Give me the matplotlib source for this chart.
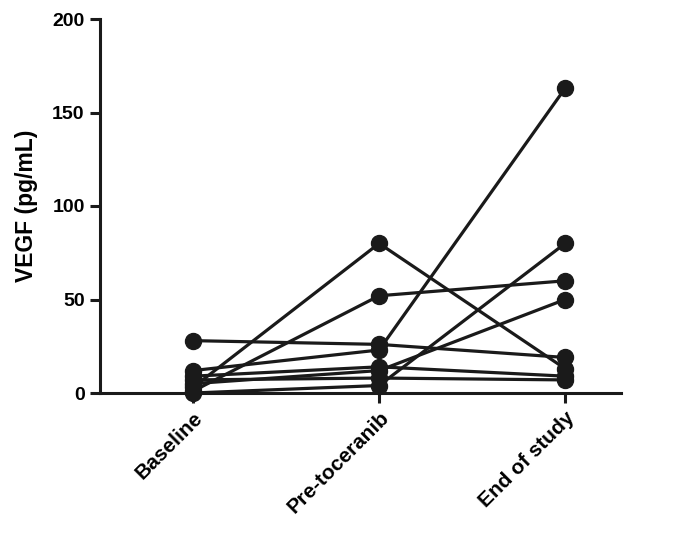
import matplotlib
matplotlib.use("Agg")
import matplotlib.pyplot as plt
import numpy as np

plt.rcParams['font.family'] = ['Liberation Sans', 'DejaVu Sans']

timepoints = ['Baseline', 'Pre-toceranib', 'End of study']

# VEGF (pg/mL) per dog: baseline, pre-toceranib, end of study
dogs = [
    [28, 26, 19],
    [12, 23, 163],
    [3, 80, 13],
    [1, 52, 60],
    [0, 4, 80],
    [5, 12, 50],
    [9, 14, 9],
    [7, 8, 7],
]

fig = plt.figure(figsize=(6.76, 5.35), dpi=100)
ax = fig.add_axes([100 / 676, 142 / 535, 521 / 676, 374 / 535])

x = np.arange(len(timepoints))
for vals in dogs:
    ax.plot(x, vals, color='#1a1a1a', lw=2.3, marker='o', ms=11.5,
            clip_on=False, zorder=3)

ax.set_xlim(-0.5, 2.3)
ax.set_ylim(0, 200)
ax.set_yticks([0, 50, 100, 150, 200])
ax.set_xticks(x)
ax.set_xticklabels(timepoints, rotation=45, ha='right', rotation_mode='anchor',
                   fontsize=15, fontweight='bold')
for lab in ax.get_yticklabels():
    lab.set_fontsize(14)
    lab.set_fontweight('bold')
ax.set_ylabel('VEGF (pg/mL)', fontsize=16.5, fontweight='bold', labelpad=10)

for s in ['top', 'right']:
    ax.spines[s].set_visible(False)
for s in ['left', 'bottom']:
    ax.spines[s].set_linewidth(2.2)
    ax.spines[s].set_color('#1a1a1a')
ax.tick_params(width=2.2, length=7, color='#1a1a1a', pad=4)

fig.savefig('out.png', dpi=100)
